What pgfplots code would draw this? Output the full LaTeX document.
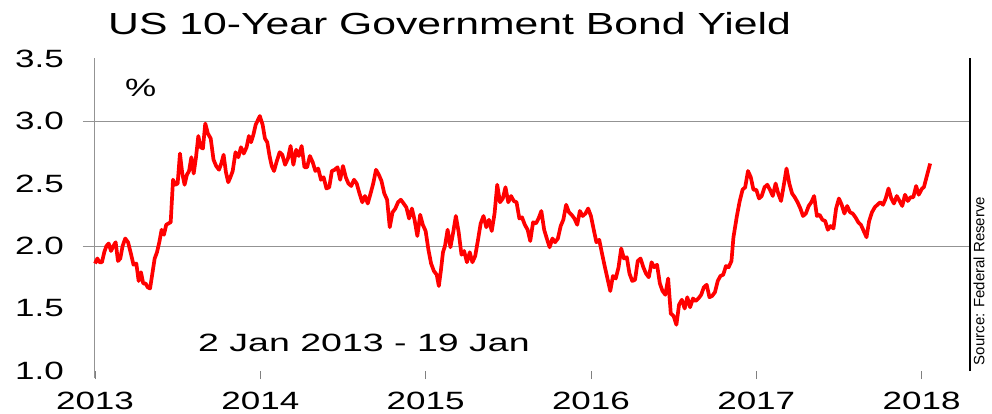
\documentclass[border=0pt]{standalone}
\usepackage{fontspec}
\setmainfont{Liberation Sans}[FakeStretch=1.4]
\newfontfamily\srcfont{Liberation Sans}
\newfontfamily\widefont{Liberation Sans}[FakeStretch=1.5]
\usepackage{pgfplots}
\usepackage{pgfplotstable}
\pgfplotsset{compat=1.18}
\pgfplotstableread{
x y
2013.000 1.86
2013.014 1.90
2013.028 1.87
2013.042 1.87
2013.056 1.95
2013.069 2.00
2013.083 2.02
2013.097 1.96
2013.111 2.00
2013.125 2.03
2013.139 1.88
2013.153 1.90
2013.167 2.00
2013.183 2.06
2013.200 2.03
2013.217 1.94
2013.233 1.85
2013.250 1.86
2013.264 1.72
2013.278 1.79
2013.292 1.70
2013.306 1.70
2013.319 1.67
2013.333 1.66
2013.347 1.78
2013.361 1.90
2013.375 1.95
2013.389 2.03
2013.403 2.13
2013.417 2.09
2013.431 2.17
2013.444 2.18
2013.458 2.19
2013.472 2.53
2013.486 2.49
2013.500 2.50
2013.514 2.74
2013.528 2.58
2013.542 2.49
2013.556 2.57
2013.569 2.60
2013.583 2.71
2013.597 2.58
2013.611 2.71
2013.625 2.88
2013.639 2.79
2013.653 2.78
2013.667 2.98
2013.683 2.90
2013.700 2.86
2013.717 2.69
2013.733 2.64
2013.750 2.61
2013.764 2.66
2013.778 2.73
2013.792 2.59
2013.806 2.51
2013.819 2.55
2013.833 2.60
2013.850 2.75
2013.867 2.71
2013.883 2.79
2013.900 2.74
2013.917 2.79
2013.931 2.88
2013.944 2.83
2013.958 2.89
2013.972 2.97
2013.997 3.04
2014.014 2.97
2014.028 2.86
2014.042 2.83
2014.056 2.72
2014.069 2.64
2014.083 2.60
2014.100 2.68
2014.117 2.75
2014.133 2.73
2014.150 2.65
2014.167 2.70
2014.183 2.80
2014.200 2.65
2014.217 2.77
2014.233 2.72
2014.250 2.80
2014.267 2.63
2014.283 2.63
2014.300 2.72
2014.317 2.67
2014.333 2.60
2014.350 2.62
2014.367 2.53
2014.383 2.55
2014.400 2.46
2014.417 2.47
2014.433 2.60
2014.450 2.61
2014.467 2.63
2014.483 2.53
2014.500 2.64
2014.517 2.55
2014.533 2.50
2014.550 2.48
2014.567 2.53
2014.583 2.50
2014.600 2.42
2014.617 2.35
2014.633 2.40
2014.650 2.34
2014.667 2.42
2014.683 2.50
2014.700 2.61
2014.717 2.57
2014.733 2.52
2014.750 2.42
2014.767 2.37
2014.783 2.15
2014.800 2.27
2014.817 2.30
2014.833 2.35
2014.850 2.37
2014.867 2.34
2014.883 2.31
2014.900 2.22
2014.917 2.30
2014.933 2.21
2014.950 2.08
2014.967 2.25
2014.983 2.17
2015.000 2.12
2015.017 1.97
2015.033 1.86
2015.050 1.80
2015.067 1.77
2015.080 1.68
2015.092 1.80
2015.105 1.95
2015.117 2.00
2015.133 2.13
2015.150 1.99
2015.167 2.11
2015.183 2.24
2015.200 2.11
2015.217 1.93
2015.233 1.96
2015.250 1.87
2015.267 1.95
2015.283 1.87
2015.300 1.92
2015.317 2.05
2015.333 2.18
2015.350 2.24
2015.367 2.15
2015.383 2.21
2015.400 2.12
2015.417 2.26
2015.433 2.49
2015.450 2.35
2015.467 2.38
2015.483 2.47
2015.500 2.35
2015.517 2.40
2015.533 2.36
2015.550 2.35
2015.567 2.22
2015.583 2.23
2015.600 2.17
2015.617 2.13
2015.633 2.04
2015.650 2.19
2015.667 2.18
2015.683 2.22
2015.700 2.28
2015.717 2.13
2015.733 2.06
2015.750 1.99
2015.767 2.06
2015.783 2.03
2015.800 2.06
2015.817 2.16
2015.833 2.21
2015.850 2.33
2015.867 2.27
2015.883 2.25
2015.900 2.22
2015.917 2.17
2015.933 2.28
2015.950 2.24
2015.967 2.26
2015.983 2.30
2016.000 2.24
2016.017 2.13
2016.033 2.03
2016.050 2.05
2016.067 1.94
2016.083 1.84
2016.100 1.74
2016.117 1.64
2016.133 1.76
2016.150 1.74
2016.167 1.83
2016.183 1.98
2016.200 1.90
2016.217 1.91
2016.233 1.78
2016.250 1.72
2016.267 1.73
2016.283 1.88
2016.300 1.90
2016.317 1.83
2016.333 1.78
2016.350 1.75
2016.367 1.87
2016.383 1.83
2016.400 1.85
2016.417 1.70
2016.433 1.64
2016.450 1.61
2016.467 1.74
2016.483 1.46
2016.500 1.44
2016.517 1.37
2016.533 1.53
2016.550 1.57
2016.567 1.50
2016.583 1.59
2016.600 1.51
2016.617 1.58
2016.633 1.56
2016.650 1.58
2016.667 1.61
2016.683 1.67
2016.700 1.69
2016.717 1.59
2016.733 1.60
2016.750 1.63
2016.767 1.72
2016.783 1.76
2016.800 1.77
2016.817 1.84
2016.833 1.83
2016.850 1.88
2016.862 2.07
2016.883 2.24
2016.900 2.36
2016.917 2.45
2016.933 2.47
2016.950 2.60
2016.967 2.55
2016.983 2.45
2017.000 2.45
2017.017 2.38
2017.033 2.40
2017.050 2.47
2017.067 2.49
2017.083 2.45
2017.100 2.40
2017.117 2.50
2017.133 2.42
2017.150 2.36
2017.167 2.49
2017.183 2.62
2017.200 2.50
2017.217 2.42
2017.233 2.39
2017.250 2.35
2017.267 2.30
2017.283 2.24
2017.300 2.26
2017.317 2.32
2017.333 2.35
2017.350 2.40
2017.367 2.24
2017.383 2.25
2017.400 2.21
2017.417 2.20
2017.433 2.13
2017.450 2.16
2017.467 2.14
2017.483 2.30
2017.500 2.38
2017.517 2.33
2017.533 2.26
2017.550 2.32
2017.567 2.27
2017.583 2.26
2017.600 2.23
2017.617 2.19
2017.633 2.17
2017.650 2.12
2017.667 2.07
2017.683 2.20
2017.700 2.27
2017.717 2.31
2017.733 2.33
2017.750 2.35
2017.767 2.33
2017.783 2.38
2017.800 2.46
2017.817 2.38
2017.833 2.34
2017.850 2.40
2017.867 2.36
2017.883 2.32
2017.900 2.41
2017.917 2.36
2017.933 2.39
2017.950 2.39
2017.967 2.48
2017.983 2.41
2018.003 2.46
2018.014 2.47
2018.030 2.55
2018.044 2.62
2018.052 2.66
}\yielddata
\begin{document}
\begin{tikzpicture}
\path (-95pt,-42pt) rectangle (897pt,371pt);
\begin{axis}[
  at={(0,0)}, anchor=south west,
  width=875pt, height=312.5pt, scale only axis,
  xmin=0, xmax=5.293, ymin=1, ymax=3.5,
  clip=false,
  axis line style={draw=none},
  tick pos=left,
  font=\fontsize{25}{30}\selectfont,
  /pgf/number format/assume math mode=true,
  xtick={0,1,2,3,4,5},
  xticklabels={2013,2014,2015,2016,2017,2018},
  ytick={1,1.5,2,2.5,3,3.5},
  major tick length=8pt,
  xtick style={draw=gray, line width=0.8pt},
  tick align=outside,
  ytick style={draw=none},
  xticklabel style={inner sep=0pt, anchor=north, yshift=-13pt},
  yticklabel style={/pgf/number format/fixed, /pgf/number format/fixed zerofill, /pgf/number format/precision=1, inner sep=0pt, anchor=east, xshift=-23pt},
  extra y ticks={2,3},
  extra y tick labels={},
  extra y tick style={grid=major, major grid style={draw=gray!85, line width=1pt}},
]
\draw[gray!85, line width=1pt] ([yshift=-7pt]rel axis cs:0,0) -- (rel axis cs:0,1);
\draw[gray!85, line width=1pt] ([xshift=-12pt]axis cs:0,2) -- (axis cs:0,2);
\draw[gray!85, line width=1pt] ([xshift=-12pt]axis cs:0,3) -- (axis cs:0,3);
\draw[black, line width=1.2pt] (rel axis cs:1,0) -- (rel axis cs:1,1);
\addplot[red, line width=3.7pt, line join=round, mark=none] table[x expr=\thisrow{x}-2013, y=y] {\yielddata};
\node[anchor=base west, inner sep=0pt, font=\fontsize{30.5}{36}\selectfont] at ([shift={(13pt,23.5pt)}]rel axis cs:0,1) {US 10-Year Government Bond Yield};
\node[anchor=west, inner sep=0pt] at ([shift={(30pt,-29.5pt)}]rel axis cs:0,1) {\%};
\node[anchor=base west, inner sep=0pt, font=\widefont\fontsize{25}{30}\selectfont] at ([shift={(103pt,20pt)}]rel axis cs:0,0) {2 Jan 2013 - 19 Jan};
\node[rotate=90, inner sep=0pt, font=\srcfont\fontsize{15}{18}\selectfont] at ([shift={(9pt,0pt)}]rel axis cs:1,0.288) {Source: Federal Reserve};
\end{axis}
\end{tikzpicture}
\end{document}
